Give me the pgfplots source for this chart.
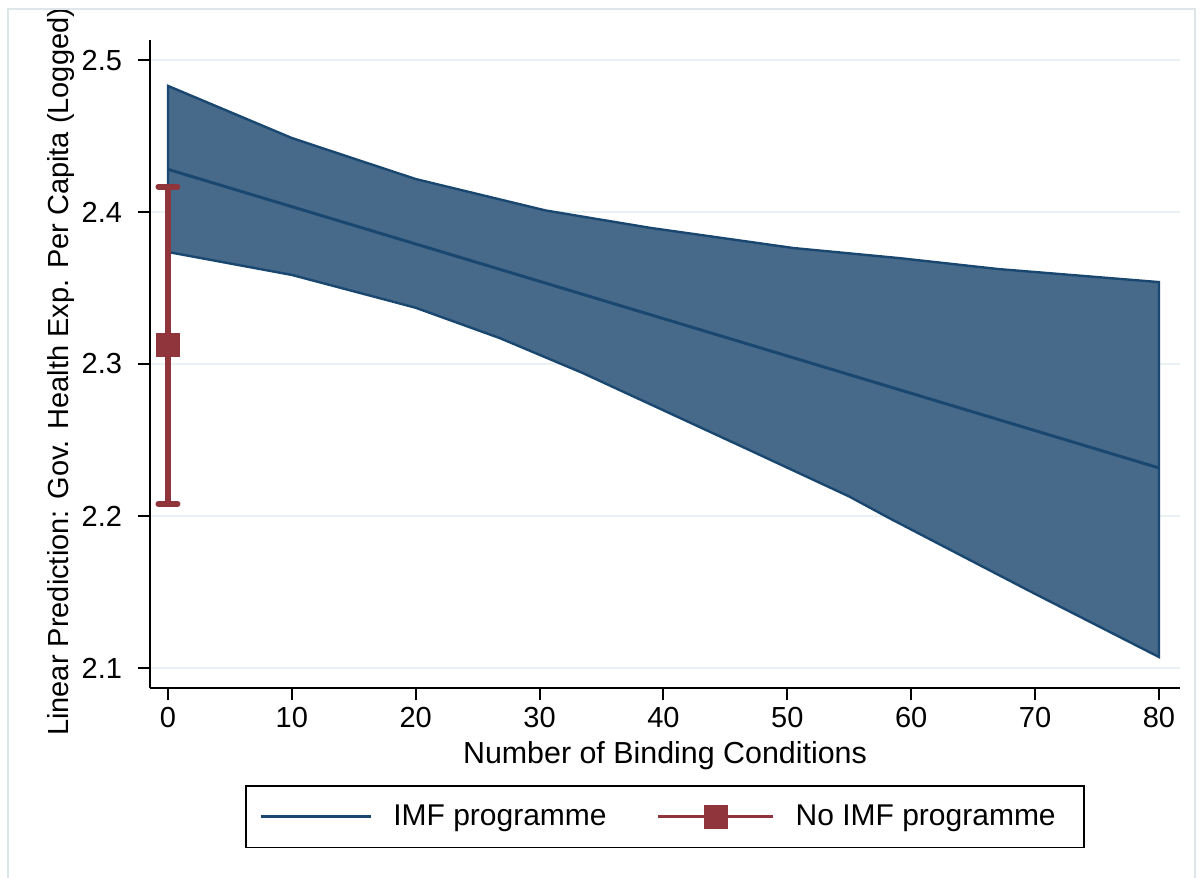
\documentclass[border=0pt]{standalone}
\usepackage{pgfplots}
\pgfplotsset{compat=1.18}
\usepackage{fontspec}
\setmainfont{Liberation Sans}
\definecolor{navy}{RGB}{26,71,111}
\definecolor{bandfill}{RGB}{71,106,138}
\definecolor{maroon}{RGB}{144,53,59}
\definecolor{gridc}{RGB}{234,242,243}
\definecolor{framec}{RGB}{222,230,233}
\pgfplotsset{
  imfleg/.style={legend image code/.code={\draw[##1] (0bp,0bp) -- (55bp,0bp);}},
  noimfleg/.style={legend image code/.code={\draw[mark repeat=2, mark phase=2, ##1] plot coordinates {(0bp,0bp) (28.75bp,0bp) (57.5bp,0bp)};}},
}
\begin{document}
\begin{tikzpicture}
\begin{axis}[
  scale only axis,
  width=515bp, height=324bp,
  xmin=-1.45, xmax=81.7,
  ymin=2.0868, ymax=2.5132,
  axis x line*=bottom, axis y line*=left,
  axis line style={-, line width=1bp, black},
  xtick={0,10,20,30,40,50,60,70,80},
  xticklabels={0,10,20,30,40,50,60,70,80},
  ytick={2.1,2.2,2.3,2.4,2.5},
  yticklabels={2.1,2.2,2.3,2.4,2.5},
  tick align=outside,
  major tick length=6bp,
  tick style={black, line width=1bp},
  ymajorgrids,
  grid style={gridc, line width=1.2bp},
  ticklabel style={font=\fontsize{14.5bp}{17bp}\selectfont},
  yticklabel style={xshift=-4.5bp},
  xlabel={Number of Binding Conditions},
  ylabel={Linear Prediction: Gov. Health Exp. Per Capita (Logged)},
  xlabel style={font=\fontsize{15.2bp}{18bp}\selectfont, at={(axis description cs:0.5,0)}, anchor=center, yshift=-34bp},
  ylabel style={font=\fontsize{14.5bp}{18bp}\selectfont, at={(axis description cs:-0.0864,0.488)}, anchor=center},
  legend columns=2,
  legend style={at={(axis description cs:0.5,0)}, anchor=north, yshift=-48.5bp,
    draw=black, line width=0.8bp, inner xsep=6.5bp, inner ysep=7.5bp,
    font=\fontsize{15bp}{18bp}\selectfont,
    nodes={inner xsep=0pt, inner ysep=2bp},
    /tikz/every odd column/.append style={column sep=10.5bp},
    /tikz/every even column/.append style={column sep=25bp}},
  legend cell align=left,
]
% confidence band
\addplot[draw=navy, line width=1.2bp, fill=bandfill, forget plot] coordinates {
 (0,2.4830) (10,2.4487) (14.4,2.4368) (20,2.4217) (30.5,2.4010) (39,2.3895)
 (50.5,2.3763) (59,2.3697) (67,2.3625) (80,2.3539)
 (80,2.1072) (69.7,2.1500) (58.2,2.1987) (55,2.2128) (46.4,2.2454)
 (33.5,2.2940) (26.8,2.3170) (20,2.3370) (17.7,2.3420) (10,2.3586) (0,2.3737)
} -- cycle;
% point estimate line
\addplot[navy, line width=1.5bp, mark=none, imfleg]
  coordinates {(0,2.4281) (80,2.2316)};
\addlegendentry{IMF programme}
% no IMF programme
\addplot[maroon, line width=1.5bp, mark=square*, mark size=5.75bp,
  mark options={fill=maroon, draw=maroon, line width=0.5bp},
  noimfleg,
  error bars/.cd, y dir=both, y explicit,
  error bar style={line width=3bp, maroon},
  error mark options={rotate=90, line width=3bp, mark size=4.75bp, maroon, line cap=round},
  ]
  coordinates {(0,2.3123) +- (0,0.1044)};
\addlegendentry{No IMF programme\hspace{7.5bp}\null}
\end{axis}
\draw[framec, line width=0.6bp] (-71bp,-100bp) rectangle (522.5bp,339.5bp);
\pgfresetboundingbox
\path[use as bounding box] (-75bp,-95bp) rectangle (526.5bp,344bp);
\end{tikzpicture}
\end{document}
